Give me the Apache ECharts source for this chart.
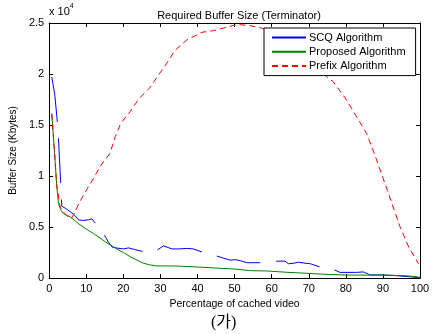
<!DOCTYPE html>
<html>
<head>
<meta charset="utf-8">
<script src="https://cdn.jsdelivr.net/npm/echarts@6/dist/echarts.min.js"></script>
<style>
html,body{margin:0;padding:0;background:#fff;}
#chart{width:435px;height:334px;}
</style>
</head>
<body>
<div id="chart"></div>
<script>
// ---- data ----
var seriesNames = ['SCQ Algorithm', 'Proposed Algorithm', 'Prefix Algorithm'];
var xTicks = [0, 10, 20, 30, 40, 50, 60, 70, 80, 90, 100];
var yTicks = [0, 0.5, 1, 1.5, 2, 2.5]; // x 10^4

// SCQ (null = gap in the line)
var scqX = [0.7, 1.5, 2.2, 2.35, 2.5, 3.1, 3.2, 3.3, 3.4, 4.5, 5.7, 7, 7.9, 9, 10.6, 11.5, 12.4, 13.5,
  14.9, 16, 16.9, 18, 20, 21.4, 23, 25.2, 27, 29.2, 30.8, 33.1, 35, 37.1, 38.9, 41.2, 43,
  45.2, 47, 48.8, 50.1, 51.5, 53.3, 56.9, 59, 61.2, 63.6, 64.5, 66, 67.2, 69, 70.4, 72.9, 75,
  76.9, 78.4, 82.9, 84.7, 86.5, 89.7, 93, 96, 98, 100];
var scqY = [19700, 18000, 15300, null, 13700, 9300, null, 7700, 7050, 6800, 6500, 6100, 5700, 5650, 5700, 5800, 5400, null,
  4200, 3500, 3050, 2950, 2850, 2950, 2800, 2600, null, 2750, 3150, 2850, 2850, 2900, 2850, 2550, null,
  2150, 1950, 1750, 1800, 1700, 1500, 1500, null, 1650, 1650, 1400, 1450, 1550, 1450, 1400, 1100, null,
  800, 550, 550, 600, 300, 300, 250, 150, 100, 0];

var propX = [0.7, 1.5, 2, 2.5, 3, 3.4, 4, 5, 5.7, 7, 8, 9.7, 12, 14, 15.1, 16.9, 18.7, 20, 21.8, 24, 25.4,
  27, 29, 33.5, 36, 39.8, 43.4, 46, 50.1, 54.2, 58.7, 64.1, 69.5, 73, 75.7, 80.2, 90, 96.4, 100];
var propY = [16100, 12000, 9200, 7300, 6800, 6500, 6300, 6100, 6000, 5600, 5300, 4870, 4350, 3850, 3560, 3150, 2750, 2500, 2100, 1700, 1450,
  1300, 1180, 1180, 1150, 1080, 1010, 950, 880, 720, 690, 560, 460, 390, 340, 290, 280, 220, 80];

var prefX = [0.7, 1.5, 2, 3, 4, 5, 6, 7, 8, 10, 12, 13.7, 14.6, 16.4, 17.8, 19.3, 21.8, 24.3, 27, 29.5, 31.7, 34,
  37.1, 41.2, 44.3, 47, 49.7, 51.5, 54, 57.3, 60, 65, 70, 75.3, 76.6, 80.2, 82.9, 85.6, 88.3, 91, 94.6, 97, 99.6];
var prefY = [16100, 12000, 9200, 6900, 6400, 6000, 5850, 6500, 7300, 8600, 9800, 10900, 11400, 12220, 13850, 15170, 16300, 17620, 18600, 19900, 21050, 22350,
  23330, 24090, 24250, 24500, 24770, 24830, 24750, 24500, 24100, 23000, 21500, 19580, 19250, 17450, 15800, 14180, 11570, 8800, 5030, 3000, 1400];

function pairs(xs, ys) {
  return xs.map(function (x, i) { return [x, ys[i] === null ? '-' : ys[i]]; });
}

var chart = echarts.init(document.getElementById('chart'));
var font = 'Liberation Sans, Arial, sans-serif';
var axisCommon = {
  axisLine: { show: true, onZero: false, lineStyle: { color: '#000', width: 1 } },
  axisTick: { show: true, inside: true, length: 4, lineStyle: { color: '#000' } },
  splitLine: { show: false }
};
chart.setOption({
  animation: false,
  backgroundColor: '#fff',
  title: {
    text: 'Required Buffer Size (Terminator)',
    left: 234, textAlign: 'center', top: 5,
    textStyle: { fontFamily: font, fontSize: 11, fontWeight: 'normal', color: '#000' }
  },
  grid: { left: 49, right: 15, top: 23, bottom: 56 },
  legend: {
    data: seriesNames,
    orient: 'vertical',
    left: 264, top: 28,
    padding: [4, 10, 4, 7],
    itemWidth: 34, itemHeight: 10, itemGap: 3.3,
    itemStyle: { opacity: 0 },
    backgroundColor: '#fff',
    borderColor: '#000', borderWidth: 1,
    textStyle: { fontFamily: font, fontSize: 11, color: '#000', padding: [0, 0, 0, -2] }
  },
  xAxis: [
    Object.assign({
      type: 'value', min: 0, max: 100, interval: 10, position: 'bottom',
      name: 'Percentage of cached video', nameLocation: 'middle', nameGap: 20,
      nameTextStyle: { fontFamily: font, fontSize: 10.5, color: '#000' },
      axisLabel: { fontFamily: font, fontSize: 11, color: '#000', margin: 5 }
    }, axisCommon),
    Object.assign({
      type: 'value', min: 0, max: 100, interval: 10, position: 'top',
      axisLabel: { show: false }
    }, axisCommon)
  ],
  yAxis: [
    Object.assign({
      type: 'value', min: 0, max: 25000, interval: 5000, position: 'left',
      name: 'Buffer Size (Kbytes)', nameLocation: 'middle', nameGap: 27,
      nameTextStyle: { fontFamily: font, fontSize: 10, color: '#000' },
      axisLabel: {
        fontFamily: font, fontSize: 11, color: '#000', margin: 5,
        formatter: function (v) { return String(yTicks[Math.round(v / 5000)]); }
      }
    }, axisCommon),
    Object.assign({
      type: 'value', min: 0, max: 25000, interval: 5000, position: 'right',
      axisLabel: { show: false }
    }, axisCommon)
  ],
  graphic: [
    {
      type: 'text', left: 49, top: 3,
      style: {
        text: '{a|x 10}{b|4}',
        rich: {
          a: { fontFamily: font, fontSize: 11, fill: '#000', verticalAlign: 'bottom' },
          b: { fontFamily: font, fontSize: 7, fill: '#000', verticalAlign: 'top', padding: [0, 0, 7, 0] }
        }
      }
    },
    {
      type: 'text', left: 211, top: 315,
      style: { text: '(가)', fontFamily: 'Liberation Serif, Noto Sans CJK KR, serif', fontSize: 16, fill: '#000' }
    }
  ],
  series: [
    {
      name: seriesNames[0], type: 'line', data: pairs(scqX, scqY), showSymbol: false, symbol: 'none',
      connectNulls: false, lineStyle: { color: '#0000ff', width: 1 }, itemStyle: { color: '#0000ff' }
    },
    {
      name: seriesNames[1], type: 'line', data: pairs(propX, propY), showSymbol: false, symbol: 'none',
      lineStyle: { color: '#008000', width: 1 }, itemStyle: { color: '#008000' }
    },
    {
      name: seriesNames[2], type: 'line', data: pairs(prefX, prefY), showSymbol: false, symbol: 'none',
      lineStyle: { color: '#ff0000', width: 1, type: [6, 4] }, itemStyle: { color: '#ff0000' }
    }
  ]
});
</script>
</body>
</html>
